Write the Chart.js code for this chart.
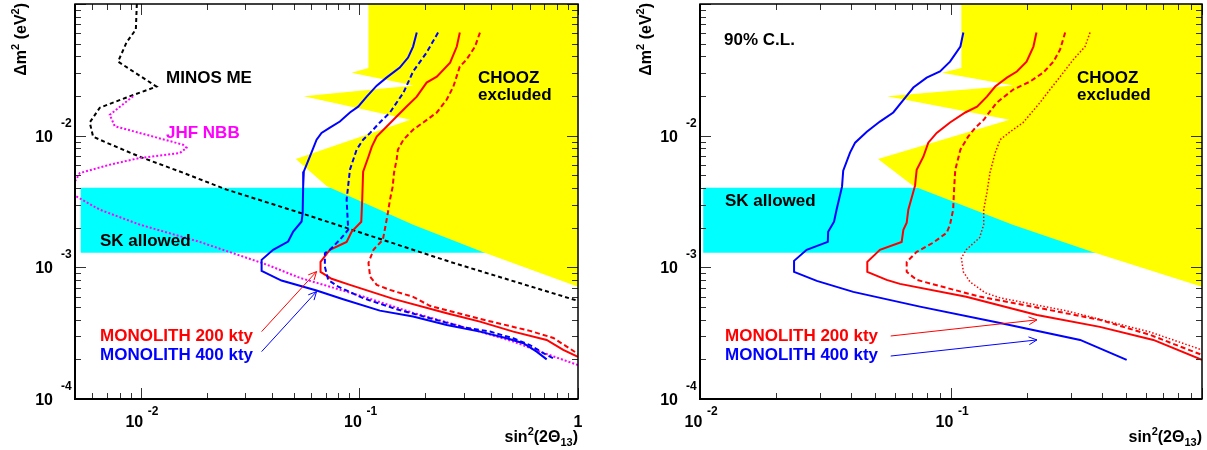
<!DOCTYPE html>
<html>
<head>
<meta charset="utf-8">
<script src="https://cdn.jsdelivr.net/npm/chart.js@4.4.1/dist/chart.umd.min.js"></script>
<style>
  html, body { margin: 0; padding: 0; background: #fff; }
  #wrap { position: relative; width: 1207px; height: 450px; }
  #left { position: absolute; left: 0; top: 0; }
  #right { position: absolute; left: 603px; top: 0; }
</style>
</head>
<body>
<div id="wrap">
  <canvas id="left" width="603" height="450"></canvas>
  <canvas id="right" width="604" height="450"></canvas>
</div>
<script>
// ---- axis ranges and tick labels ----
const xRangeLeft = [0.005, 1];
const xRangeRight = [0.01, 1];
const yRange = [1e-4, 0.1];
const xTickValsLeft = [0.01, 0.1, 1];
const xTickTextLeft = [['10', '-2'], ['10', '-1'], ['1', '']];
const xTickValsRight = [0.01, 0.1];
const xTickTextRight = [['10', '-2'], ['10', '-1']];
const yTickVals = [1e-4, 1e-3, 1e-2];
const yTickText = [['10', '-4'], ['10', '-3'], ['10', '-2']];

// ---- regions (shared CHOOZ contour, SK band) ----
const choozX = [0.110, 1.0, 1.0, 0.369, 0.176, 0.071, 0.0512, 0.171, 0.0557, 0.177, 0.0921, 0.110];
const choozY = [0.1, 0.1, 0.000711, 0.00130, 0.00211, 0.00412, 0.00665, 0.0132, 0.0199, 0.0240, 0.0300, 0.0327];
const skXLeft = [0.00531, 1, 1, 0.00531];
const skXRight = [0.0103, 1, 1, 0.0103];
const skY = [0.00402, 0.00402, 0.00129, 0.00129];

// ---- left panel curves ----
const blueSolidLX = [0.183,0.176,0.167,0.153,0.133,0.120,0.108,0.0987,0.0905,0.0814,0.0733,0.0671,0.0637,0.0594,0.0557,0.0553,0.0550,0.0544,0.0498,0.0472,0.0403,0.0357,0.0357,0.0440,0.0637,0.0843,0.124,0.176,0.251,0.356,0.472,0.562,0.647,0.719];
const blueSolidLY = [0.0607,0.0475,0.0392,0.0329,0.0276,0.0240,0.0198,0.0166,0.0150,0.0128,0.0115,0.0105,0.00932,0.00696,0.00535,0.00412,0.00258,0.00223,0.00187,0.00157,0.00136,0.00114,0.000941,0.000794,0.000666,0.000573,0.000469,0.000423,0.000365,0.000325,0.000289,0.000265,0.000229,0.000200];

const blueDashLX = [0.229,0.203,0.176,0.159,0.138,0.124,0.112,0.104,0.0971,0.0905,0.0874,0.0889,0.0814,0.0733,0.0695,0.0695,0.0720,0.0800,0.104,0.148,0.210,0.299,0.396,0.506,0.603,0.694,0.771];
const blueDashLY = [0.0607,0.0428,0.0307,0.0212,0.0150,0.0126,0.0105,0.00932,0.00783,0.00551,0.00326,0.00193,0.00162,0.00136,0.00128,0.00101,0.000803,0.000714,0.000583,0.000481,0.000411,0.000351,0.000325,0.000289,0.000257,0.000223,0.000204];

const redSolidLX = [0.288,0.279,0.260,0.226,0.203,0.183,0.164,0.148,0.133,0.120,0.114,0.110,0.104,0.103,0.102,0.0921,0.0874,0.0733,0.0664,0.0664,0.0746,0.0905,0.143,0.251,0.356,0.506,0.719,0.856,1.0];
const redSolidLY = [0.0607,0.0475,0.0359,0.0281,0.0253,0.0198,0.0166,0.0140,0.0117,0.00983,0.00825,0.00692,0.00532,0.00326,0.00222,0.00186,0.00156,0.00136,0.00110,0.000924,0.000818,0.000736,0.000576,0.000448,0.000387,0.000325,0.000281,0.000236,0.000209];

const redDashLX = [0.356,0.338,0.309,0.288,0.269,0.251,0.226,0.196,0.176,0.159,0.150,0.148,0.144,0.142,0.138,0.135,0.132,0.128,0.116,0.110,0.112,0.120,0.138,0.176,0.210,0.356,0.603,0.771,0.888,1.0];
const redDashLY = [0.0607,0.0475,0.0378,0.0335,0.0236,0.0188,0.0150,0.0126,0.0111,0.00932,0.00783,0.00657,0.00523,0.00410,0.00326,0.00260,0.00211,0.00162,0.00136,0.00108,0.000847,0.000736,0.000674,0.000597,0.000510,0.000406,0.000329,0.000291,0.000250,0.000220];

const minosX = [0.00959,0.00949,0.00860,0.00787,0.0118,0.00860,0.00649,0.00584,0.00605,0.00697,0.00989,0.0156,0.0247,0.0534,0.260,1.0];
const minosY = [0.1,0.0640,0.0510,0.0365,0.0236,0.0195,0.0163,0.0126,0.00983,0.00885,0.00692,0.00523,0.00389,0.00260,0.00110,0.000556];

const jhfX = [0.00922,0.00721,0.00760,0.0156,0.0162,0.0151,0.00989,0.00721,0.00526,0.005,0.00463,0.005,0.00649,0.00989,0.0186,0.0376,0.0534,0.104,0.176,0.356,0.506,0.670,1.0];
const jhfY = [0.0199,0.0144,0.0118,0.00854,0.00810,0.00739,0.00677,0.00602,0.00520,0.00449,0.00395,0.00350,0.00274,0.00211,0.00156,0.00105,0.000832,0.000600,0.000451,0.000325,0.000273,0.000229,0.000181];

const arrowRedLX = [0.0357, 0.0637];
const arrowRedLY = [0.000325, 0.000929];
const arrowBlueLX = [0.0357, 0.0637];
const arrowBlueLY = [0.000229, 0.000655];

// ---- right panel curves ----
const blueSolidRX = [0.112,0.109,0.0991,0.0904,0.0800,0.0708,0.0662,0.0589,0.0521,0.0462,0.0415,0.0396,0.0372,0.0368,0.0350,0.0342,0.0324,0.0323,0.0266,0.0237,0.0237,0.0292,0.0408,0.0752,0.157,0.327,0.501];
const blueSolidRY = [0.0607,0.0475,0.0365,0.0307,0.0276,0.0232,0.0198,0.0150,0.0128,0.0107,0.00885,0.00743,0.00542,0.00410,0.00274,0.00222,0.00186,0.00156,0.00136,0.00112,0.000924,0.000789,0.000651,0.000503,0.000378,0.000281,0.000198];

const redSolidRX = [0.219,0.213,0.200,0.183,0.167,0.150,0.139,0.127,0.114,0.0991,0.0877,0.0812,0.0776,0.0730,0.0719,0.0676,0.0666,0.0646,0.0636,0.0521,0.0464,0.0464,0.0554,0.0626,0.115,0.220,0.392,0.640,1.0];
const redSolidRY = [0.0607,0.0475,0.0365,0.0307,0.0276,0.0236,0.0198,0.0166,0.0150,0.0126,0.0105,0.00885,0.00692,0.00551,0.00417,0.00274,0.00218,0.00193,0.00156,0.00136,0.00110,0.000924,0.000803,0.000749,0.000597,0.000435,0.000353,0.000281,0.000198];

const redDashRX = [0.285,0.272,0.256,0.233,0.206,0.177,0.152,0.135,0.125,0.117,0.109,0.104,0.103,0.102,0.0991,0.0961,0.0850,0.0730,0.0666,0.0666,0.0730,0.0961,0.130,0.213,0.392,0.621,1.0];
const redDashRY = [0.0607,0.0451,0.0365,0.0301,0.0257,0.0224,0.0178,0.0132,0.0115,0.00983,0.00783,0.00551,0.00410,0.00274,0.00211,0.00183,0.00154,0.00131,0.00110,0.000924,0.000803,0.000698,0.000600,0.000501,0.000399,0.000307,0.000216];

const redDotRX = [0.358,0.342,0.307,0.280,0.248,0.226,0.194,0.172,0.157,0.150,0.143,0.139,0.135,0.135,0.130,0.115,0.110,0.112,0.119,0.137,0.157,0.289,0.621,1.0];
const redDotRY = [0.0607,0.0475,0.0378,0.0301,0.0224,0.0178,0.0126,0.0107,0.00932,0.00743,0.00523,0.00369,0.00274,0.00211,0.00168,0.00136,0.00118,0.000924,0.000776,0.000640,0.000586,0.000467,0.000323,0.000236];

const arrowRedRX = [0.0575, 0.220];
const arrowRedRY = [0.000301, 0.000399];
const arrowBlueRX = [0.0575, 0.220];
const arrowBlueRY = [0.000212, 0.000281];

const RED = '#ff0000', BLUE = '#0000ff', MAGENTA = '#ff00ff';
const YELLOW = '#ffff00', CYAN = '#00ffff';
const FONT = '"Liberation Sans", Arial, Helvetica, sans-serif';

const toPts = (xs, ys) => xs.map((x, i) => ({ x, y: ys[i] }));

function curve(label, xs, ys, color, dash, width, order) {
  return {
    label, data: toPts(xs, ys), borderColor: color, borderWidth: width || 2,
    borderDash: dash || [], pointRadius: 0, fill: false, order: order ?? 1
  };
}
function region(label, xs, ys, color, order) {
  return {
    label, data: toPts(xs, ys), backgroundColor: color, borderWidth: 0,
    pointRadius: 0, fill: 'shape', order
  };
}
function arrow(label, xs, ys, color) {
  return { ...curve(label, xs, ys, color, [], 1, 0), arrowHead: true };
}

// text placed per panel (canvas pixels)
const panels = {
  left: {
    xTicks: xTickValsLeft, xText: xTickTextLeft,
    notes: [
      { t: 'MINOS ME', x: 166, y: 83, c: '#000' },
      { t: 'JHF NBB', x: 166, y: 138, c: MAGENTA },
      { t: 'CHOOZ', x: 478, y: 83, c: '#000' },
      { t: 'excluded', x: 478, y: 100, c: '#000' },
      { t: 'SK allowed', x: 100, y: 246, c: '#000' },
      { t: 'MONOLITH 200 kty', x: 100, y: 341, c: RED },
      { t: 'MONOLITH 400 kty', x: 100, y: 360, c: BLUE }
    ]
  },
  right: {
    xTicks: xTickValsRight, xText: xTickTextRight,
    notes: [
      { t: '90% C.L.', x: 121, y: 45, c: '#000' },
      { t: 'SK allowed', x: 122, y: 206, c: '#000' },
      { t: 'CHOOZ', x: 474, y: 83, c: '#000' },
      { t: 'excluded', x: 474, y: 100, c: '#000' },
      { t: 'MONOLITH 200 kty', x: 122, y: 341, c: RED },
      { t: 'MONOLITH 400 kty', x: 122, y: 360, c: BLUE }
    ]
  }
};

function logTicks(min, max) {
  const out = [];
  for (let d = Math.floor(Math.log10(min)); d <= Math.ceil(Math.log10(max)); d++) {
    for (let k = 1; k <= 9; k++) {
      const v = k * Math.pow(10, d);
      if (v >= min * 0.9999 && v <= max * 1.0001) out.push({ v, major: k === 1 });
    }
  }
  return out;
}

function drawRich(ctx, parts, x, y, size) {
  parts.forEach(p => {
    const small = p.sup || p.sub;
    ctx.font = 'bold ' + (small ? Math.round(size * 0.7) : size) + 'px ' + FONT;
    const dy = p.sup ? -size * 0.42 : p.sub ? size * 0.28 : 0;
    ctx.fillText(p.t, x, y + dy);
    x += ctx.measureText(p.t).width;
  });
}
function richWidth(ctx, parts, size) {
  let w = 0;
  parts.forEach(p => {
    ctx.font = 'bold ' + ((p.sup || p.sub) ? Math.round(size * 0.7) : size) + 'px ' + FONT;
    w += ctx.measureText(p.t).width;
  });
  return w;
}

const xTitle = [{ t: 'sin' }, { t: '2', sup: 1 }, { t: '(2\u0398' }, { t: '13', sub: 1 }, { t: ')' }];
const yTitle = [{ t: '\u0394m' }, { t: '2', sup: 1 }, { t: ' (eV' }, { t: '2', sup: 1 }, { t: ')' }];

// ROOT-like frame: ticks inside on all four sides, 10^n labels, titles, notes
const rootFrame = {
  id: 'rootFrame',
  afterDraw(chart) {
    const cfg = panels[chart.canvas.id];
    const { ctx, chartArea: a } = chart;
    const xs = chart.scales.x, ys = chart.scales.y;
    ctx.save();

    ctx.strokeStyle = '#333';
    ctx.lineWidth = 1;
    ctx.beginPath();
    logTicks(xs.min, xs.max).forEach(t => {
      const px = Math.round(xs.getPixelForValue(t.v)) + 0.5;
      const len = t.major ? 11 : 6;
      ctx.moveTo(px, a.bottom); ctx.lineTo(px, a.bottom - len);
      ctx.moveTo(px, a.top); ctx.lineTo(px, a.top + len);
    });
    logTicks(ys.min, ys.max).forEach(t => {
      const py = Math.round(ys.getPixelForValue(t.v)) + 0.5;
      const len = t.major ? 11 : 6;
      ctx.moveTo(a.left, py); ctx.lineTo(a.left + len, py);
      ctx.moveTo(a.right, py); ctx.lineTo(a.right - len, py);
    });
    ctx.stroke();

    ctx.strokeStyle = '#000';
    ctx.lineWidth = 1.5;
    ctx.strokeRect(a.left, a.top, a.right - a.left, a.bottom - a.top);
    ctx.lineWidth = 2;
    ctx.beginPath();
    ctx.moveTo(a.left, a.top); ctx.lineTo(a.left, a.bottom); ctx.lineTo(a.right, a.bottom);
    ctx.stroke();

    // tick labels
    ctx.fillStyle = '#000';
    ctx.textBaseline = 'alphabetic';
    cfg.xTicks.forEach((v, i) => {
      const px = xs.getPixelForValue(v);
      const [base, exp] = cfg.xText[i];
      ctx.font = 'bold 16px ' + FONT;
      ctx.textAlign = 'center';
      if (!exp) { ctx.fillText(base, px, a.bottom + 28); return; }
      ctx.fillText(base, px - 6.5, a.bottom + 28);
      ctx.font = 'bold 12px ' + FONT;
      ctx.textAlign = 'left';
      ctx.fillText(exp, px + 7, a.bottom + 16);
    });
    yTickVals.forEach((v, i) => {
      const py = ys.getPixelForValue(v);
      const [base, exp] = yTickText[i];
      ctx.font = 'bold 16px ' + FONT;
      ctx.textAlign = 'right';
      ctx.fillText(base, a.left - 22, py + 6);
      ctx.font = 'bold 12px ' + FONT;
      ctx.textAlign = 'left';
      ctx.fillText(exp, a.left - 14, py - 9);
    });

    // axis titles
    ctx.textAlign = 'left';
    const wx = richWidth(ctx, xTitle, 16);
    drawRich(ctx, xTitle, a.right - wx, a.bottom + 43, 16);
    const wy = richWidth(ctx, yTitle, 16);
    ctx.save();
    ctx.translate(a.left - 49, 3 + wy);
    ctx.rotate(-Math.PI / 2);
    drawRich(ctx, yTitle, 0, 0, 16);
    ctx.restore();

    // notes
    ctx.font = 'bold 17px ' + FONT;
    cfg.notes.forEach(n => {
      ctx.fillStyle = n.c;
      ctx.fillText(n.t, n.x, n.y);
    });
    ctx.restore();
  }
};

// open ">" heads at the last point of arrow datasets
const arrowHeads = {
  id: 'arrowHeads',
  afterDatasetsDraw(chart) {
    const ctx = chart.ctx;
    chart.data.datasets.forEach((ds, i) => {
      if (!ds.arrowHead) return;
      const pts = chart.getDatasetMeta(i).data;
      const a = pts[pts.length - 2], b = pts[pts.length - 1];
      const ang = Math.atan2(b.y - a.y, b.x - a.x);
      const len = 9, spread = 0.45;
      ctx.save();
      ctx.strokeStyle = ds.borderColor;
      ctx.lineWidth = 1;
      ctx.beginPath();
      ctx.moveTo(b.x - len * Math.cos(ang - spread), b.y - len * Math.sin(ang - spread));
      ctx.lineTo(b.x, b.y);
      ctx.lineTo(b.x - len * Math.cos(ang + spread), b.y - len * Math.sin(ang + spread));
      ctx.stroke();
      ctx.restore();
    });
  }
};

function makeChart(id, datasets, xRange, yAxisWidth, padRight) {
  return new Chart(document.getElementById(id), {
    type: 'line',
    data: { datasets },
    options: {
      responsive: false,
      animation: false,
      devicePixelRatio: 1,
      layout: { padding: { left: 0, top: 4, right: padRight, bottom: 0 } },
      plugins: { legend: { display: false }, tooltip: { enabled: false } },
      elements: { line: { tension: 0 }, point: { radius: 0 } },
      scales: {
        x: {
          type: 'logarithmic', min: xRange[0], max: xRange[1],
          ticks: { display: false }, grid: { display: false }, border: { display: false },
          afterFit: s => { s.height = 51; }
        },
        y: {
          type: 'logarithmic', min: yRange[0], max: yRange[1],
          ticks: { display: false }, grid: { display: false }, border: { display: false },
          afterFit: s => { s.width = yAxisWidth; }
        }
      }
    },
    plugins: [rootFrame, arrowHeads]
  });
}

makeChart('left', [
  region('SK allowed', skXLeft, skY, CYAN, 5),
  region('CHOOZ excluded', choozX, choozY, YELLOW, 4),
  curve('JHF NBB', jhfX, jhfY, MAGENTA, [2, 2], 2, 2),
  curve('MINOS ME', minosX, minosY, '#000', [4, 3], 2, 2),
  curve('400 kty alt', blueDashLX, blueDashLY, BLUE, [5, 3]),
  curve('200 kty alt', redDashLX, redDashLY, RED, [5, 3]),
  curve('MONOLITH 400 kty', blueSolidLX, blueSolidLY, BLUE),
  curve('MONOLITH 200 kty', redSolidLX, redSolidLY, RED),
  arrow('arrow 200', arrowRedLX, arrowRedLY, RED),
  arrow('arrow 400', arrowBlueLX, arrowBlueLY, BLUE)
], xRangeLeft, 75, 25);

makeChart('right', [
  region('SK allowed', skXRight, skY, CYAN, 5),
  region('CHOOZ excluded', choozX, choozY, YELLOW, 4),
  curve('200 kty dotted', redDotRX, redDotRY, RED, [1.5, 2], 1.5),
  curve('200 kty dashed', redDashRX, redDashRY, RED, [5, 3]),
  curve('MONOLITH 200 kty', redSolidRX, redSolidRY, RED),
  curve('MONOLITH 400 kty', blueSolidRX, blueSolidRY, BLUE),
  arrow('arrow 200', arrowRedRX, arrowRedRY, RED),
  arrow('arrow 400', arrowBlueRX, arrowBlueRY, BLUE)
], xRangeRight, 97, 5);
</script>
</body>
</html>
